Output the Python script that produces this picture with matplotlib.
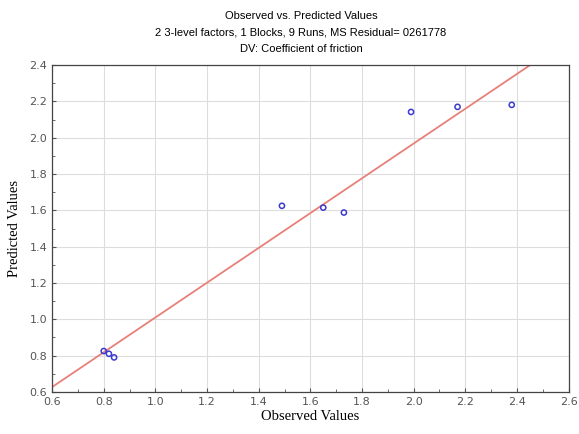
import matplotlib.pyplot as plt
from matplotlib.ticker import MultipleLocator

# Observed vs predicted values
observed = [0.80, 0.82, 0.84, 1.49, 1.65, 1.73, 1.99, 2.17, 2.38]
predicted = [0.825, 0.81, 0.79, 1.625, 1.615, 1.588, 2.142, 2.17, 2.181]

# Fitted line (intercept, slope)
line_a = 0.052
line_b = 0.958
line_x = [0.6, 2.6]

fig = plt.figure(figsize=(5.79, 4.34), dpi=100)
ax = fig.add_axes([0.09, 0.097, 0.892, 0.753])

line_y = [line_a + line_b * x for x in line_x]
ax.plot(line_x, line_y, color="#e8807a", linewidth=1.3, zorder=2)
ax.scatter(observed, predicted, s=14, facecolors="none", edgecolors="#3b3bd0",
           linewidths=1.1, zorder=3)

ax.set_xlim(0.6, 2.6)
ax.set_ylim(0.6, 2.4)
ax.xaxis.set_major_locator(MultipleLocator(0.2))
ax.yaxis.set_major_locator(MultipleLocator(0.2))
ax.xaxis.set_minor_locator(MultipleLocator(0.1))
ax.yaxis.set_minor_locator(MultipleLocator(0.1))
ax.xaxis.set_major_formatter(plt.FuncFormatter(lambda v, p: f"{v:.1f}"))
ax.yaxis.set_major_formatter(plt.FuncFormatter(lambda v, p: f"{v:.1f}"))
ax.tick_params(which="both", direction="in", colors="#555555", labelsize=8,
               labelcolor="#555555")
ax.tick_params(which="major", length=3)
ax.tick_params(which="minor", length=2)
ax.grid(True, which="major", color="#dddddd", linewidth=0.8)
ax.set_axisbelow(True)
for s in ax.spines.values():
    s.set_color("#444444")
    s.set_linewidth(0.9)

ax.set_xlabel("Observed Values", family="Liberation Serif", fontsize=10.5, labelpad=2)
ax.set_ylabel("Predicted Values", family="Liberation Serif", fontsize=10.5, labelpad=6)

fig.text(0.52, 0.963, "Observed vs. Predicted Values", ha="center", va="center",
         family="Liberation Sans", fontsize=8)
fig.text(0.52, 0.926, "2 3-level factors, 1 Blocks, 9 Runs, MS Residual= 0261778",
         ha="center", va="center", family="Liberation Sans", fontsize=8)
fig.text(0.52, 0.888, "DV: Coefficient of friction", ha="center", va="center",
         family="Liberation Sans", fontsize=8)

fig.savefig("out.png", dpi=100)
